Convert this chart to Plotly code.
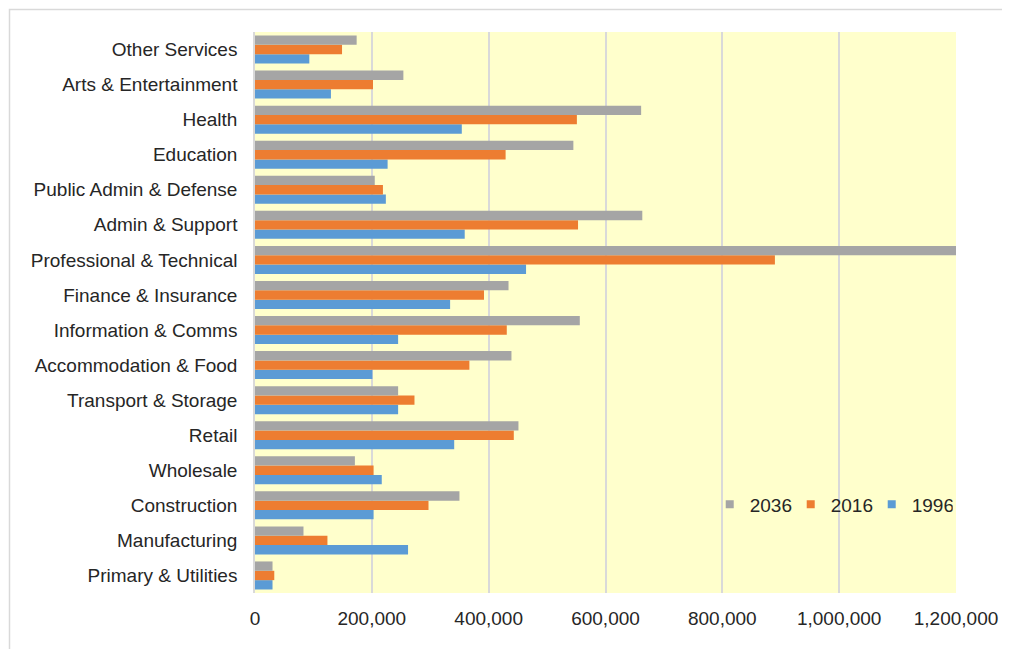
"""Employment by sector: 1996, 2016 and projected 2036 (horizontal grouped bars)."""

import plotly.graph_objects as go

# Categories, bottom to top as drawn on the y axis
SECTORS = [
    "Primary & Utilities", "Manufacturing", "Construction", "Wholesale",
    "Retail", "Transport & Storage", "Accommodation & Food",
    "Information & Comms", "Finance & Insurance", "Professional & Technical",
    "Admin & Support", "Public Admin & Defense", "Education", "Health",
    "Arts & Entertainment", "Other Services",
]

JOBS_1996 = [30000, 262000, 203000, 217000, 341000, 245000, 201000, 245000,
             334000, 464000, 359000, 224000, 227000, 354000, 130000, 93000]
JOBS_2016 = [33000, 124000, 297000, 203000, 443000, 273000, 367000, 431000,
             392000, 890000, 553000, 219000, 429000, 551000, 202000, 149000]
JOBS_2036 = [30000, 83000, 350000, 171000, 451000, 245000, 439000, 556000,
             434000, 1200000, 663000, 205000, 545000, 661000, 254000, 174000]

X_TICKS = [0, 200000, 400000, 600000, 800000, 1000000, 1200000]

# Couleurs style Excel
BLUE = "#5B9BD5"
ORANGE = "#ED7D31"
GRAY = "#A5A5A5"
TEXT_COLOR = "#262626"
GRID = "#D9D9D9"

SERIES = [
    ("1996", JOBS_1996, BLUE),
    ("2016", JOBS_2016, ORANGE),
    ("2036", JOBS_2036, GRAY),
]

fig = go.Figure()
for name, values, color in SERIES:
    fig.add_trace(go.Bar(
        y=SECTORS,
        x=values,
        name=name,
        orientation="h",
        marker_color=color,
        marker_line_width=0,
        showlegend=False,
    ))

# Entrées de légende seules : petits carrés comme dans Excel
for name, _, color in reversed(SERIES):
    fig.add_trace(go.Scatter(
        x=[None],
        y=[None],
        mode="markers",
        name=name,
        marker={"symbol": "square", "size": 8, "color": color},
    ))

# la page HTML a une marge de 8 px : la figure est réduite d'autant
fig.update_layout(
    width=1002,
    height=641,
    barmode="group",
    bargap=0.2,
    bargroupgap=0,
    plot_bgcolor="#FFFFCC",
    paper_bgcolor="white",
    font={"family": "Liberation Sans, Arial, sans-serif", "size": 19, "color": TEXT_COLOR},
    margin={"l": 247, "r": 54, "t": 24, "b": 56, "autoexpand": False},
    legend={
        "orientation": "h",
        "x": 0.822,
        "xanchor": "center",
        "y": 0.158,
        "yanchor": "middle",
        "bgcolor": "rgba(0,0,0,0)",
        "font": {"size": 19, "color": TEXT_COLOR},
        "itemwidth": 30,
        "entrywidth": 36,
        "entrywidthmode": "pixels",
    },
    # cadre gris clair autour du graphique (bords haut/gauche visibles)
    shapes=[{
        "type": "rect",
        "xref": "paper", "yref": "paper",
        "x0": (9.5 - 255) / 701, "x1": (1030 - 255) / 701,
        "y0": (593 - 670) / 561, "y1": (593 - 9.5) / 561,
        "line": {"color": GRID, "width": 1.5},
        "fillcolor": "rgba(0,0,0,0)",
        "layer": "below",
    }],
)

fig.update_xaxes(
    range=[0, 1200000],
    tickvals=X_TICKS,
    tickformat=",d",
    showgrid=True,
    gridcolor=GRID,
    gridwidth=1.5,
    zeroline=False,
    showline=False,
    ticks="",
    ticklabelstandoff=12,
    tickfont={"size": 19, "color": TEXT_COLOR},
)
fig.update_yaxes(
    showgrid=False,
    showline=True,
    linecolor=GRID,
    linewidth=1.5,
    ticks="",
    ticklabelstandoff=12,
    tickfont={"size": 19, "color": TEXT_COLOR},
)

fig.write_html("out.html")
